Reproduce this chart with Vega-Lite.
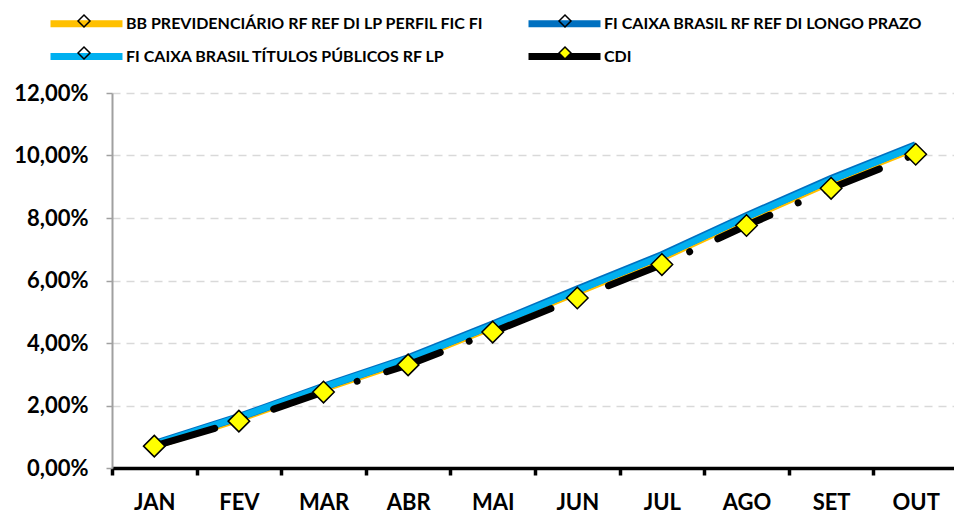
{
  "$schema": "https://vega.github.io/schema/vega-lite/v6.json",
  "width": 846,
  "height": 375,
  "autosize": "none",
  "padding": {"left": 112, "top": 93, "right": -4, "bottom": 46},
  "background": "white",
  "config": {"view": {"stroke": null}, "font": "Lato"},
  "data": {
    "values": [
      {"mes": "JAN", "serie": "BB PREVIDENCIÁRIO RF REF DI LP PERFIL FIC FI", "valor": 0.70},
      {"mes": "FEV", "serie": "BB PREVIDENCIÁRIO RF REF DI LP PERFIL FIC FI", "valor": 1.56},
      {"mes": "MAR", "serie": "BB PREVIDENCIÁRIO RF REF DI LP PERFIL FIC FI", "valor": 2.53},
      {"mes": "ABR", "serie": "BB PREVIDENCIÁRIO RF REF DI LP PERFIL FIC FI", "valor": 3.43},
      {"mes": "MAI", "serie": "BB PREVIDENCIÁRIO RF REF DI LP PERFIL FIC FI", "valor": 4.51},
      {"mes": "JUN", "serie": "BB PREVIDENCIÁRIO RF REF DI LP PERFIL FIC FI", "valor": 5.62},
      {"mes": "JUL", "serie": "BB PREVIDENCIÁRIO RF REF DI LP PERFIL FIC FI", "valor": 6.72},
      {"mes": "AGO", "serie": "BB PREVIDENCIÁRIO RF REF DI LP PERFIL FIC FI", "valor": 7.97},
      {"mes": "SET", "serie": "BB PREVIDENCIÁRIO RF REF DI LP PERFIL FIC FI", "valor": 9.16},
      {"mes": "OUT", "serie": "BB PREVIDENCIÁRIO RF REF DI LP PERFIL FIC FI", "valor": 10.24},
      {"mes": "JAN", "serie": "FI CAIXA BRASIL RF REF DI LONGO PRAZO", "valor": 0.77},
      {"mes": "FEV", "serie": "FI CAIXA BRASIL RF REF DI LONGO PRAZO", "valor": 1.63},
      {"mes": "MAR", "serie": "FI CAIXA BRASIL RF REF DI LONGO PRAZO", "valor": 2.60},
      {"mes": "ABR", "serie": "FI CAIXA BRASIL RF REF DI LONGO PRAZO", "valor": 3.51},
      {"mes": "MAI", "serie": "FI CAIXA BRASIL RF REF DI LONGO PRAZO", "valor": 4.59},
      {"mes": "JUN", "serie": "FI CAIXA BRASIL RF REF DI LONGO PRAZO", "valor": 5.71},
      {"mes": "JUL", "serie": "FI CAIXA BRASIL RF REF DI LONGO PRAZO", "valor": 6.81},
      {"mes": "AGO", "serie": "FI CAIXA BRASIL RF REF DI LONGO PRAZO", "valor": 8.06},
      {"mes": "SET", "serie": "FI CAIXA BRASIL RF REF DI LONGO PRAZO", "valor": 9.25},
      {"mes": "OUT", "serie": "FI CAIXA BRASIL RF REF DI LONGO PRAZO", "valor": 10.33},
      {"mes": "JAN", "serie": "FI CAIXA BRASIL TÍTULOS PÚBLICOS RF LP", "valor": 0.76},
      {"mes": "FEV", "serie": "FI CAIXA BRASIL TÍTULOS PÚBLICOS RF LP", "valor": 1.62},
      {"mes": "MAR", "serie": "FI CAIXA BRASIL TÍTULOS PÚBLICOS RF LP", "valor": 2.59},
      {"mes": "ABR", "serie": "FI CAIXA BRASIL TÍTULOS PÚBLICOS RF LP", "valor": 3.49},
      {"mes": "MAI", "serie": "FI CAIXA BRASIL TÍTULOS PÚBLICOS RF LP", "valor": 4.57},
      {"mes": "JUN", "serie": "FI CAIXA BRASIL TÍTULOS PÚBLICOS RF LP", "valor": 5.68},
      {"mes": "JUL", "serie": "FI CAIXA BRASIL TÍTULOS PÚBLICOS RF LP", "valor": 6.78},
      {"mes": "AGO", "serie": "FI CAIXA BRASIL TÍTULOS PÚBLICOS RF LP", "valor": 8.03},
      {"mes": "SET", "serie": "FI CAIXA BRASIL TÍTULOS PÚBLICOS RF LP", "valor": 9.22},
      {"mes": "OUT", "serie": "FI CAIXA BRASIL TÍTULOS PÚBLICOS RF LP", "valor": 10.30},
      {"mes": "JAN", "serie": "CDI", "valor": 0.70},
      {"mes": "FEV", "serie": "CDI", "valor": 1.50},
      {"mes": "MAR", "serie": "CDI", "valor": 2.43},
      {"mes": "ABR", "serie": "CDI", "valor": 3.30},
      {"mes": "MAI", "serie": "CDI", "valor": 4.35},
      {"mes": "JUN", "serie": "CDI", "valor": 5.44},
      {"mes": "JUL", "serie": "CDI", "valor": 6.51},
      {"mes": "AGO", "serie": "CDI", "valor": 7.76},
      {"mes": "SET", "serie": "CDI", "valor": 8.95},
      {"mes": "OUT", "serie": "CDI", "valor": 10.04}
    ]
  },
  "encoding": {
    "x": {
      "field": "mes",
      "type": "ordinal",
      "sort": ["JAN", "FEV", "MAR", "ABR", "MAI", "JUN", "JUL", "AGO", "SET", "OUT"],
      "scale": {"type": "band", "paddingInner": 0, "paddingOuter": 0},
      "axis": {
        "title": null,
        "labelAngle": 0,
        "tickBand": "extent",
        "grid": false,
        "domainColor": "black",
        "domainWidth": 3.5,
        "tickColor": "black",
        "tickWidth": 3.5,
        "tickSize": 7,
        "labelFont": "Lato",
        "labelFontSize": 22,
        "labelFontWeight": "bold",
        "labelColor": "black",
        "labelPadding": 17
      }
    },
    "y": {
      "field": "valor",
      "type": "quantitative",
      "scale": {"domain": [0, 12], "nice": false},
      "axis": {
        "title": null,
        "values": [0, 2, 4, 6, 8, 10, 12],
        "labelExpr": "replace(format(datum.value, '.2f'), '.', ',') + '%'",
        "grid": true,
        "gridColor": "#D9D9D9",
        "gridDash": [8, 6],
        "gridWidth": 1.5,
        "domainColor": "#A0A0A0",
        "domainWidth": 2,
        "tickColor": "#A0A0A0",
        "tickWidth": 1.5,
        "tickSize": 6,
        "labelFont": "Lato",
        "labelFontSize": 22,
        "labelFontWeight": "bold",
        "labelColor": "black",
        "labelPadding": 18
      }
    }
  },
  "layer": [
    {
      "transform": [{"filter": "datum.serie === 'BB PREVIDENCIÁRIO RF REF DI LP PERFIL FIC FI'"}],
      "mark": {"type": "line", "strokeWidth": 7, "strokeCap": "butt"},
      "encoding": {
        "color": {
          "field": "serie",
          "type": "nominal",
          "scale": {
            "domain": ["CDI", "BB PREVIDENCIÁRIO RF REF DI LP PERFIL FIC FI", "FI CAIXA BRASIL RF REF DI LONGO PRAZO", "FI CAIXA BRASIL TÍTULOS PÚBLICOS RF LP"],
            "range": ["#000000", "#FFC000", "#0070C0", "#00B0F0"]
          },
          "legend": {
            "orient": "none",
            "legendX": -41,
            "legendY": -85,
            "columns": 2,
            "title": null,
            "values": ["BB PREVIDENCIÁRIO RF REF DI LP PERFIL FIC FI", "FI CAIXA BRASIL TÍTULOS PÚBLICOS RF LP", "FI CAIXA BRASIL RF REF DI LONGO PRAZO", "CDI"],
            "symbolType": "M-3,0H3",
            "symbolSize": 576,
            "symbolStrokeWidth": 7,
            "symbolDash": [1, 0],
            "labelFont": "Lato",
            "labelFontSize": 16,
            "labelFontWeight": "bold",
            "labelColor": "black",
            "labelOffset": 24,
            "labelLimit": 700,
            "columnPadding": 29,
            "rowPadding": 3
          }
        }
      }
    },
    {
      "transform": [{"filter": "datum.serie === 'FI CAIXA BRASIL RF REF DI LONGO PRAZO'"}],
      "mark": {"type": "line", "strokeWidth": 8, "strokeCap": "butt"},
      "encoding": {"color": {"field": "serie", "type": "nominal"}}
    },
    {
      "transform": [{"filter": "datum.serie === 'FI CAIXA BRASIL TÍTULOS PÚBLICOS RF LP'"}],
      "mark": {"type": "line", "strokeWidth": 6.5, "strokeCap": "butt"},
      "encoding": {"color": {"field": "serie", "type": "nominal"}}
    },
    {
      "transform": [{"filter": "datum.serie === 'CDI'"}],
      "mark": {"type": "line", "strokeWidth": 7, "strokeCap": "round", "strokeDash": [57, 31, 0.01, 31], "strokeDashOffset": -6},
      "encoding": {"color": {"field": "serie", "type": "nominal"}}
    },
    {
      "transform": [{"filter": "datum.serie === 'CDI'"}],
      "mark": {"type": "point", "filled": true, "shape": "M-0.17,0L0,-0.17L0.17,0L0,0.17Z", "stroke": "black", "strokeWidth": 1.5, "size": 16000, "opacity": 1},
      "encoding": {
        "fill": {
          "field": "serie",
          "type": "nominal",
          "scale": {
            "domain": ["BB PREVIDENCIÁRIO RF REF DI LP PERFIL FIC FI", "FI CAIXA BRASIL TÍTULOS PÚBLICOS RF LP", "FI CAIXA BRASIL RF REF DI LONGO PRAZO", "CDI"],
            "range": ["transparent", "transparent", "transparent", "#FFFF00"]
          },
          "legend": {
            "orient": "none",
            "legendX": -41,
            "legendY": -85,
            "columns": 2,
            "title": null,
            "symbolType": "M-0.5,0L0,-0.5L0.5,0L0,0.5Z",
            "symbolSize": 576,
            "symbolStrokeColor": "black",
            "symbolStrokeWidth": 1.5,
            "symbolOpacity": 1,
            "labelFont": "Lato",
            "labelFontSize": 16,
            "labelFontWeight": "bold",
            "labelOpacity": 0,
            "labelOffset": 24,
            "labelLimit": 700,
            "columnPadding": 72,
            "rowPadding": 10
          }
        }
      }
    }
  ]
}
